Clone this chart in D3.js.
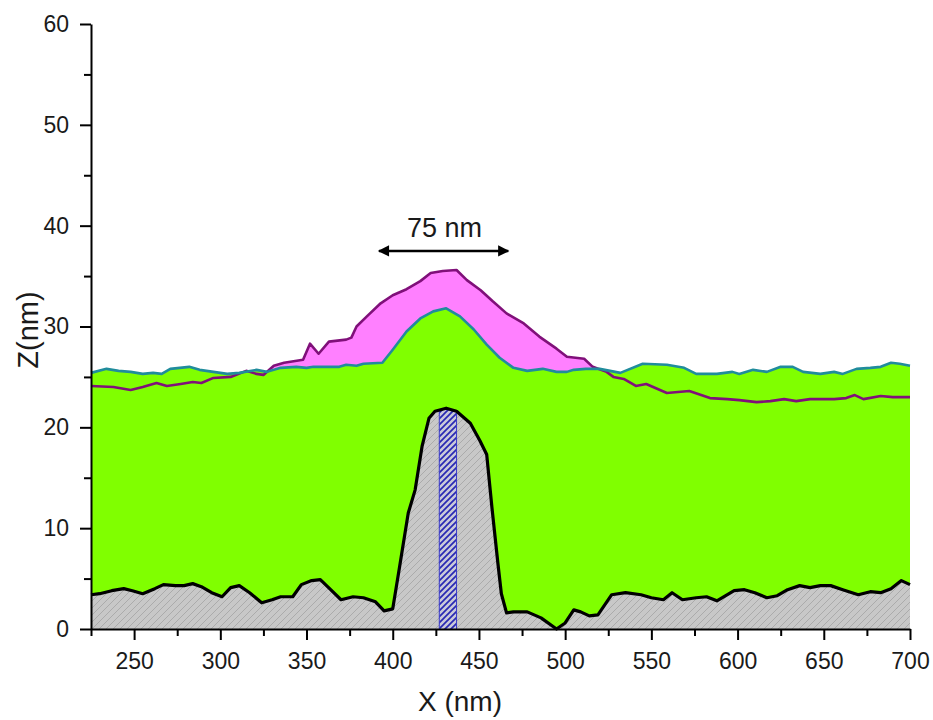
<!DOCTYPE html>
<html>
<head>
<meta charset="utf-8">
<script src="https://cdn.jsdelivr.net/npm/d3@7"></script>
<style>
  html, body { margin: 0; padding: 0; background: #ffffff; }
  svg { display: block; }
  text { font-family: "Liberation Sans", Arial, sans-serif; }
</style>
</head>
<body>
<svg id="chart" width="933" height="720"></svg>
<script>
// ---------------- data ----------------
// substrate profile (black line, grey hatched fill) [X nm, Z nm]
const substrate = [[225,3.4],[230,3.5],[237,3.8],[244,4.0],[249,3.8],[255,3.5],[262,4.0],[267,4.4],[274,4.3],[279,4.3],[284,4.5],[289,4.2],[295,3.6],[301,3.2],[306,4.1],[311,4.3],[317,3.6],[324,2.6],[330,2.9],[335,3.2],[342,3.2],[347,4.4],[353,4.8],[358,4.9],[364,3.9],[370,2.9],[377,3.2],[383,3.1],[390,2.7],[395,1.8],[400,2.0],[404,6.2],[409,11.5],[413,13.8],[417,18.1],[421,20.9],[424.5,21.6],[431,21.9],[437,21.6],[445,20.4],[450.5,18.7],[454.5,17.3],[457.5,12.1],[461,6.5],[463,3.5],[466,1.6],[470,1.7],[478,1.7],[486,1.1],[495,0],[500,0.6],[505,1.9],[509,1.7],[514,1.3],[519,1.4],[527,3.4],[535,3.6],[544,3.4],[550,3.1],[557,2.9],[562,3.6],[568,2.9],[576,3.1],[582,3.2],[588,2.8],[598,3.8],[604,3.9],[610,3.6],[617,3.1],[623,3.3],[629,3.9],[636,4.3],[642,4.1],[648,4.3],[654,4.3],[661,3.9],[670,3.4],[677,3.7],[683,3.6],[689,4.0],[695,4.8],[700,4.4]];

// top of the green layer (teal line)
const layerTop = [[225,25.4],[234,25.8],[241,25.6],[248,25.5],[255,25.3],[261,25.4],[266,25.3],[271,25.8],[282,26.0],[288,25.7],[296,25.5],[304,25.3],[311,25.4],[321,25.7],[327,25.5],[335,25.9],[344,26.0],[350,25.9],[354,26.0],[364,26.0],[369,26.0],[373,26.2],[379,26.1],[383,26.3],[394,26.4],[400,27.7],[408,29.5],[416,30.8],[423.5,31.5],[431,31.8],[439,31.0],[447,29.7],[454.5,28.2],[462,26.9],[470,25.9],[478,25.6],[487,25.8],[495,25.5],[501,25.5],[505,25.7],[512,25.8],[520,25.8],[532,25.4],[545,26.3],[559,26.2],[569,25.9],[576,25.3],[588,25.3],[597,25.5],[601,25.3],[609,25.7],[617,25.5],[625,26.0],[632,26.0],[638,25.5],[648,25.3],[656,25.5],[661,25.3],[669,25.8],[677,25.9],[683,26.0],[689,26.4],[694,26.3],[700,26.1]];

// second profile (purple line, magenta fill where above the green layer)
const shellTop = [[225,24.1],[238,24.0],[248,23.7],[255,24.0],[263,24.4],[269,24.1],[277,24.3],[284,24.5],[289,24.4],[296,24.9],[306,25.0],[315,25.6],[321,25.3],[325,25.2],[331,26.1],[337,26.4],[348,26.7],[352,28.3],[357,27.3],[363,28.5],[373,28.7],[376,28.9],[379,30.0],[385,31.0],[393,32.3],[400,33.1],[408,33.7],[416,34.5],[422,35.3],[429,35.5],[437,35.6],[443,34.6],[451,33.6],[458,32.5],[466,31.3],[476,30.3],[485,29.0],[495,27.8],[501,27.0],[511,26.8],[516,26.0],[524,25.5],[528,25.0],[534,24.8],[541,24.1],[547,24.3],[559,23.4],[572,23.6],[584,22.9],[594,22.8],[601,22.7],[611,22.5],[619,22.6],[627,22.8],[634,22.6],[642,22.8],[656,22.8],[663,22.9],[668,23.2],[673,22.8],[683,23.1],[690,23.0],[700,23.0]];

// blue hatched band on the substrate peak [x0, x1]
const bandX = [427, 437];
// width marker
const markerX = [392, 467];
const markerZ = 37.5;
const markerLabel = "75 nm";

const xDomain = [225, 700];
const yDomain = [0, 60];
const xMajorTicks = [250, 300, 350, 400, 450, 500, 550, 600, 650, 700];
const xMinorTicks = [225, 275, 325, 375, 425, 475, 525, 575, 625, 675];
const yMajorTicks = [0, 10, 20, 30, 40, 50, 60];
const yMinorTicks = [5, 15, 25, 35, 45, 55];
const xTitle = "X (nm)";
const yTitle = "Z(nm)";

// ---------------- drawing ----------------
const svg = d3.select("#chart");
const plot = { left: 91, right: 910, top: 24, bottom: 629 };

const x = d3.scaleLinear().domain(xDomain).range([plot.left, plot.right]);
const y = d3.scaleLinear().domain(yDomain).range([plot.bottom, plot.top]);

const defs = svg.append("defs");

// grey hatch
const gp = defs.append("pattern").attr("id", "greyHatch")
  .attr("patternUnits", "userSpaceOnUse").attr("width", 7).attr("height", 7);
gp.append("rect").attr("width", 7).attr("height", 7).attr("fill", "#c8c8c8");
gp.append("path").attr("d", "M-1,1 l2,-2 M0,7 l7,-7 M6,8 l2,-2")
  .attr("stroke", "#ababab").attr("stroke-width", 1);

// blue hatch
const bp = defs.append("pattern").attr("id", "blueHatch")
  .attr("patternUnits", "userSpaceOnUse").attr("width", 6).attr("height", 6);
bp.append("rect").attr("width", 6).attr("height", 6).attr("fill", "#c9c9d9");
bp.append("path").attr("d", "M-1,1 l2,-2 M0,6 l6,-6 M5,7 l2,-2")
  .attr("stroke", "#2828b4").attr("stroke-width", 1.7);

// arrow markers
defs.append("marker").attr("id", "arrowEnd")
  .attr("viewBox", "0 0 10 10").attr("refX", 9).attr("refY", 5)
  .attr("markerWidth", 5).attr("markerHeight", 4.5).attr("markerUnits", "strokeWidth")
  .attr("orient", "auto-start-reverse")
  .append("path").attr("d", "M0,0 L10,5 L0,10 Z").attr("fill", "#000");

const areaFrom0 = d3.area().x(d => x(d[0])).y0(y(0)).y1(d => y(d[1]));
const lineGen = d3.line().x(d => x(d[0])).y(d => y(d[1]));

// magenta region (shell), then green layer over it, then grey substrate
svg.append("path").datum(shellTop).attr("d", areaFrom0).attr("fill", "#ff80ff");
svg.append("path").datum(layerTop).attr("d", areaFrom0).attr("fill", "#80ff00");

defs.append("clipPath").attr("id", "subClip")
  .append("path").datum(substrate).attr("d", areaFrom0);

svg.append("path").datum(substrate).attr("d", areaFrom0).attr("fill", "url(#greyHatch)");

// blue band clipped to substrate
const band = svg.append("g").attr("clip-path", "url(#subClip)");
band.append("rect")
  .attr("x", x(bandX[0])).attr("width", x(bandX[1]) - x(bandX[0]))
  .attr("y", y(yDomain[1])).attr("height", y(0) - y(yDomain[1]))
  .attr("fill", "url(#blueHatch)");
band.selectAll("line.edge").data(bandX).enter().append("line")
  .attr("x1", d => x(d)).attr("x2", d => x(d))
  .attr("y1", y(yDomain[1])).attr("y2", y(0))
  .attr("stroke", "#3a3ac8").attr("stroke-width", 1);

// lines
svg.append("path").datum(shellTop).attr("d", lineGen)
  .attr("fill", "none").attr("stroke", "#80107a").attr("stroke-width", 2.6)
  .attr("stroke-linejoin", "round");
svg.append("path").datum(layerTop).attr("d", lineGen)
  .attr("fill", "none").attr("stroke", "#208c9c").attr("stroke-width", 2.6)
  .attr("stroke-linejoin", "round");
svg.append("path").datum(substrate).attr("d", lineGen)
  .attr("fill", "none").attr("stroke", "#000").attr("stroke-width", 3.2)
  .attr("stroke-linejoin", "round");

// axes
const xAxis = svg.append("g").attr("transform", `translate(0,${plot.bottom})`)
  .call(d3.axisBottom(x).tickValues(xMajorTicks).tickSize(11).tickPadding(13).tickSizeOuter(0));
const xMinor = svg.append("g").attr("transform", `translate(0,${plot.bottom})`)
  .call(d3.axisBottom(x).tickValues(xMinorTicks).tickSize(7).tickFormat("").tickSizeOuter(0));
const yAxis = svg.append("g").attr("transform", `translate(${plot.left},0)`)
  .call(d3.axisLeft(y).tickValues(yMajorTicks).tickSize(11).tickPadding(11).tickSizeOuter(0));
const yMinor = svg.append("g").attr("transform", `translate(${plot.left},0)`)
  .call(d3.axisLeft(y).tickValues(yMinorTicks).tickSize(7).tickFormat("").tickSizeOuter(0));

[xAxis, xMinor, yAxis, yMinor].forEach(g => {
  g.select(".domain").attr("stroke", "#000").attr("stroke-width", 2);
  g.selectAll(".tick line").attr("stroke", "#000").attr("stroke-width", 2);
  g.selectAll(".tick text").attr("fill", "#1a1a1a")
    .style("font-family", "'Liberation Sans', Arial, sans-serif").style("font-size", "23px");
});
xMinor.select(".domain").remove();
yMinor.select(".domain").remove();

// axis titles
svg.append("text").attr("x", 460).attr("y", 711)
  .attr("text-anchor", "middle").attr("font-size", 28).attr("fill", "#1a1a1a")
  .text(xTitle);
svg.append("text").attr("transform", "translate(38,330) rotate(-90)")
  .attr("text-anchor", "middle").attr("font-size", 29).attr("fill", "#1a1a1a")
  .text(yTitle);

// width marker
svg.append("line")
  .attr("x1", x(markerX[0])).attr("x2", x(markerX[1]))
  .attr("y1", y(markerZ)).attr("y2", y(markerZ))
  .attr("stroke", "#000").attr("stroke-width", 2.5)
  .attr("marker-start", "url(#arrowEnd)").attr("marker-end", "url(#arrowEnd)");
svg.append("text")
  .attr("x", x((markerX[0] + markerX[1]) / 2) + 1).attr("y", y(markerZ) - 14)
  .attr("text-anchor", "middle").attr("font-size", 27).attr("fill", "#1a1a1a")
  .text(markerLabel);
</script>
</body>
</html>
